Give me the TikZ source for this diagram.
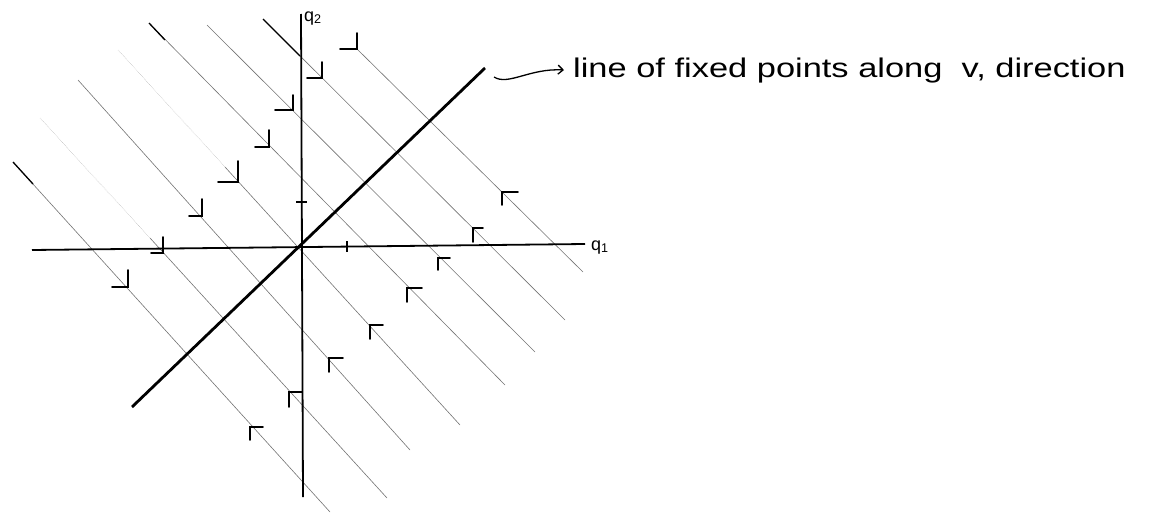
\documentclass[tikz,border=0pt]{standalone}
\usepackage{fontspec}
\setmainfont{Liberation Sans}
\usetikzlibrary{arrows.meta}
\begin{document}
\begin{tikzpicture}[x=1pt,y=-1pt,
  flow/.style={black!55, line width=0.6pt},
  faint/.style={black!30, line width=0.5pt, densely dotted},
  dark/.style={black, line width=1.3pt},
  axis/.style={black, line width=1.8pt},
  fixedline/.style={black, line width=2.8pt},
  tickmark/.style={black, line width=1.2pt},
  marker/.style={black, line width=1.7pt, line cap=round},
  lbl/.style={font=\fontsize{27}{32}\selectfont, inner sep=0pt},
  axlbl/.style={font=\fontsize{18}{20}\selectfont, inner sep=0pt}]
\useasboundingbox (0,0) rectangle (1168,514);
% flow lines
\draw[flow] (13,162) -- (330,512);
\draw[dark] (13,162) -- (33,184);
\draw[faint] (40,118) -- (150,238);
\draw[flow] (150,238) -- (387,498);
\draw[flow] (78,80) -- (410,450);
\draw[faint] (118,50) -- (225,167);
\draw[flow] (225,167) -- (460,425);
\draw[flow] (149,23) -- (505,385);
\draw[dark] (149,23) -- (165,40);
\draw[flow] (207,25) -- (535,352);
\draw[flow] (263,19) -- (565,320);
\draw[dark] (263,19) -- (300,56);
\draw[flow] (357,49) -- (583,272);
% axes
\coordinate (O) at (301,247);
\coordinate (q1l) at (32,250);
\coordinate (q1r) at (585,244);
\coordinate (q2t) at (301,14);
\coordinate (q2b) at (303,497);
\draw[axis] (q1l) -- (q1r);
\draw[axis] (q2b) -- (q2t);
\node[axlbl, anchor=base west] (q1lab) at (591,250) {q\textsubscript{1}};
\node[axlbl, anchor=base west] (q2lab) at (304,21) {q\textsubscript{2}};
\draw[tickmark] (296,202) -- (307,202);
\draw[tickmark] (347,241) -- (347,252);
% line of fixed points
\coordinate (fb) at (132,407);
\coordinate (ft) at (485,68);
\draw[fixedline] (fb) -- (ft);
% markers towards the line (upper left)
\foreach \x/\y/\v/\h in {357/49/16/17, 322/78/16/15, 293/110/15/18, 269/147/17/14,
  238/182/21/20, 202/216/17/13, 163/253/16/12, 128/287/17/16}
  \draw[marker] (\x,\y-\v) -- (\x,\y) -- (\x-\h,\y);
% markers towards the line (lower right)
\foreach \x/\y/\v/\h in {502/192/13/16, 473/228/14/10, 438/258/12/12, 407/288/14/15,
  370/325/14/13, 329/358/14/14, 289/392/15/13, 250/427/13/13}
  \draw[marker] (\x+\h,\y) -- (\x,\y) -- (\x,\y+\v);
% label
\node[lbl, anchor=base west] (lbl) at (573,77) {\scalebox{1.275}[1]{line of fixed points along\ \ v, direction}};
\coordinate (cs) at (494,77);
\draw[line width=1.3pt, -{Straight Barb[length=5pt,width=9pt]}] (cs) .. controls (508,86) and (530,68) .. ([xshift=-9pt]lbl.west);
\end{tikzpicture}
\end{document}
